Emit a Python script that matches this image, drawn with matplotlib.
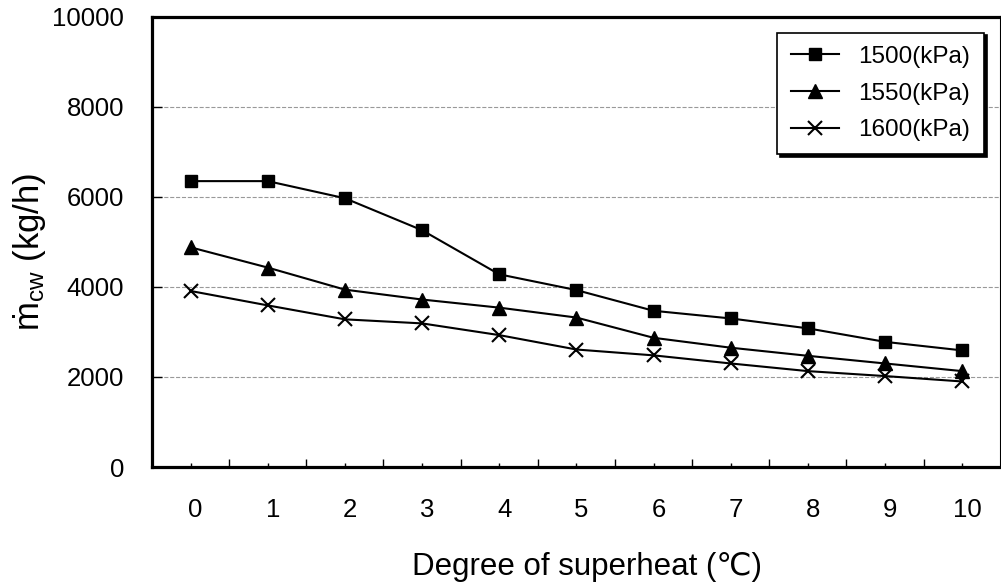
import numpy as np
import matplotlib
matplotlib.use('Agg')
import matplotlib.pyplot as plt
import matplotlib.transforms as mtransforms
from matplotlib.ticker import MultipleLocator

plt.rcParams['font.family'] = ['Liberation Sans', 'DejaVu Sans']
plt.rcParams['mathtext.fontset'] = 'custom'
plt.rcParams['mathtext.rm'] = 'Liberation Sans'
plt.rcParams['mathtext.it'] = 'Liberation Sans'

# data
superheat = [0, 1, 2, 3, 4, 5, 6, 7, 8, 9, 10]
flow_1500 = [6350, 6350, 5970, 5260, 4280, 3930, 3470, 3300, 3080, 2780, 2590]
flow_1550 = [4880, 4430, 3940, 3720, 3540, 3320, 2870, 2650, 2470, 2300, 2130]
flow_1600 = [3910, 3590, 3280, 3190, 2930, 2610, 2480, 2300, 2130, 2020, 1900]
labels = ['1500(kPa)', '1550(kPa)', '1600(kPa)']

fig = plt.figure(figsize=(10.01, 5.87), dpi=100)
ax = fig.add_axes([0.1518, 0.2044, 0.848, 0.767])

ax.plot(superheat, flow_1500, '-s', color='black', lw=1.5, ms=8.5, label=labels[0])
ax.plot(superheat, flow_1550, '-^', color='black', lw=1.5, ms=9.5, label=labels[1])
ax.plot(superheat, flow_1600, '-x', color='black', lw=1.5, ms=10, mew=1.5, label=labels[2])

ax.set_xlim(-0.5, 10.5)
ax.set_ylim(0, 10000)
ax.set_xticks(superheat)
ax.xaxis.set_minor_locator(MultipleLocator(0.5))
ax.set_yticks([0, 2000, 4000, 6000, 8000, 10000])

ax.yaxis.grid(True, linestyle='--', color='#999999', lw=0.8)
ax.set_axisbelow(True)

for s in ['left', 'bottom', 'top']:
    ax.spines[s].set_linewidth(2.3)
ax.spines['right'].set_linewidth(1.5)

ax.tick_params(axis='x', which='major', direction='in', length=3, width=1, labelsize=18.5, pad=22)
ax.tick_params(axis='x', which='minor', direction='in', length=6, width=1)
ax.tick_params(axis='y', direction='in', length=7, width=1, labelsize=18.5, pad=20)

# x tick labels sit a few pixels right of their ticks in the reference
shift = mtransforms.ScaledTranslation(5 / 100, 0, fig.dpi_scale_trans)
for lab in ax.get_xticklabels():
    lab.set_transform(lab.get_transform() + shift)

fig.text(0.586, 0.034, 'Degree of superheat (℃)', fontsize=22.5, ha='center', va='center')
fig.text(0.029, 0.571, 'ṁ$_{cw}$ (kg/h)', fontsize=25, ha='center', va='center',
         rotation=90)

leg = ax.legend(loc='upper right', bbox_to_anchor=(0.98, 0.965), borderaxespad=0,
                fontsize=17.5, fancybox=False, edgecolor='black', framealpha=1,
                shadow={'color': 'black', 'alpha': 1}, handlelength=2.0,
                labelspacing=0.6, borderpad=0.55)
leg.get_frame().set_linewidth(1.2)

fig.savefig('out.png', dpi=100)
